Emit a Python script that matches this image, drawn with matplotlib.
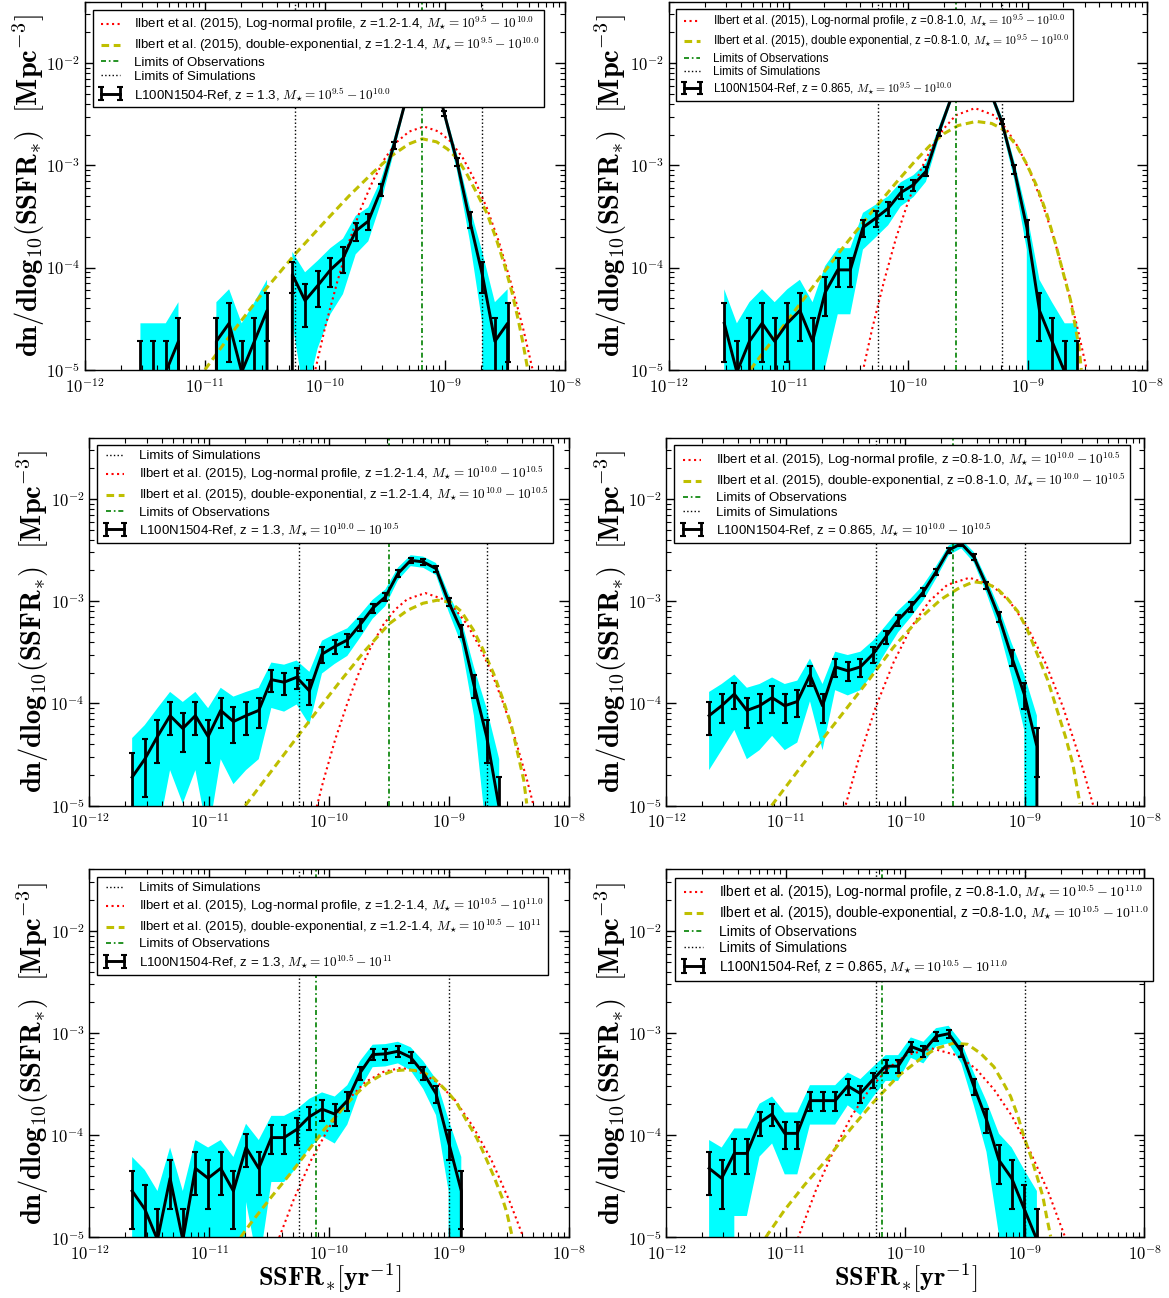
# SSFR distribution functions, L100N1504-Ref vs Ilbert et al. (2015)

import numpy as np
import matplotlib
matplotlib.use('Agg')
import matplotlib.pyplot as plt
from matplotlib import ticker

plt.rcParams['font.family'] = 'sans-serif'
plt.rcParams['font.sans-serif'] = ['Liberation Sans', 'DejaVu Sans']
plt.rcParams['mathtext.fontset'] = 'cm'
plt.rcParams['legend.numpoints'] = 2
plt.rcParams['axes.linewidth'] = 1.0

# one galaxy in one bin -> number density (Mpc^-3 dex^-1)
unit = 9.48e-6

# log10 SSFR bin centres [yr^-1]
log_bins = [-11.643, -11.538, -11.432, -11.327, -11.221, -11.116, -11.010, -10.905,
            -10.799, -10.694, -10.588, -10.483, -10.377, -10.272, -10.166, -10.061,
            -9.955, -9.850, -9.744, -9.639, -9.533, -9.428, -9.322, -9.217,
            -9.111, -9.006, -8.900, -8.795, -8.689, -8.584, -8.478, -8.373]

# galaxy counts per bin (simulation)
tl_counts = [1, 1, 1, 2, 0, 0, 2, 3, 1, 2, 4, 0, 9, 5, 7, 10, 13, 24, 30, 61, 164,
             480, 1000, 1100, 340, 115, 31, 9, 2, 3, 0]
tr_counts = [3, 1, 2, 3, 2, 3, 4, 2, 6, 10, 10, 26, 32, 40, 57, 68, 92, 219, 480,
             800, 850, 600, 285, 96, 26, 4, 2, 1, 1, 0]
ml_counts = [2, 3, 5, 8, 6, 8, 5, 9, 7, 8, 9, 18, 17, 19, 14, 32, 38, 44, 62, 90,
             116, 197, 265, 256, 220, 104, 55, 16, 5, 1, 0]
mr_counts = [8, 10, 13, 9, 10, 12, 10, 11, 20, 10, 24, 22, 24, 32, 47, 69, 93, 130,
             204, 333, 387, 286, 151, 74, 30, 13, 4, 0]
bl_counts = [3, 2, 1, 4, 1, 5, 4, 5, 3, 8, 5, 10, 10, 12, 16, 19, 17, 23, 43, 65,
             66, 70, 61, 43, 27, 9, 3, 0]
br_counts = [5, 4, 7, 7, 14, 17, 11, 11, 23, 23, 23, 32, 27, 37, 50, 50, 78, 70,
             98, 104, 70, 32, 15, 6, 4, 2, 1, 0]

# Ilbert et al. (2015) log-normal profiles (log10 SSFR, log10 density)
tl_red_lx = [-10.10, -10.00, -9.90, -9.80, -9.70, -9.60, -9.50, -9.40, -9.30, -9.175,
             -9.05, -8.95, -8.85, -8.75, -8.65, -8.55, -8.45, -8.35, -8.25]
tl_red_ly = [-5.10, -4.59, -4.15, -3.75, -3.42, -3.15, -2.93, -2.77, -2.67, -2.62,
             -2.67, -2.77, -2.93, -3.15, -3.42, -3.75, -4.15, -4.59, -5.10]
tr_red_lx = [-10.40, -10.30, -10.20, -10.10, -10.00, -9.90, -9.80, -9.70, -9.60, -9.44,
             -9.28, -9.18, -9.08, -8.98, -8.88, -8.78, -8.68, -8.58, -8.48]
tr_red_ly = [-5.13, -4.60, -4.13, -3.71, -3.36, -3.06, -2.82, -2.64, -2.51, -2.44,
             -2.51, -2.64, -2.82, -3.06, -3.36, -3.71, -4.13, -4.60, -5.13]
ml_red_lx = [-10.15, -10.05, -9.95, -9.85, -9.75, -9.65, -9.55, -9.45, -9.35, -9.20,
             -9.05, -8.95, -8.85, -8.75, -8.65, -8.55, -8.45, -8.35, -8.25]
ml_red_ly = [-5.22, -4.76, -4.35, -4.00, -3.69, -3.44, -3.23, -3.08, -2.98, -2.92,
             -2.98, -3.08, -3.23, -3.44, -3.69, -4.00, -4.35, -4.76, -5.22]
mr_red_lx = [-10.55, -10.40, -10.25, -10.10, -9.95, -9.80, -9.65, -9.465, -9.28, -9.13,
             -8.98, -8.83, -8.68, -8.53, -8.38]
mr_red_ly = [-5.20, -4.58, -4.04, -3.60, -3.25, -3.00, -2.84, -2.77, -2.84, -3.00,
             -3.25, -3.60, -4.04, -4.58, -5.20]
bl_red_lx = [-10.45, -10.30, -10.15, -10.00, -9.85, -9.70, -9.55, -9.40, -9.25, -9.10,
             -8.95, -8.80, -8.65, -8.50, -8.35]
bl_red_ly = [-5.10, -4.64, -4.24, -3.92, -3.66, -3.48, -3.38, -3.34, -3.38, -3.48,
             -3.66, -3.92, -4.24, -4.64, -5.10]
br_red_lx = [-10.90, -10.75, -10.60, -10.45, -10.30, -10.15, -10.00, -9.78, -9.56, -9.41,
             -9.26, -9.11, -8.96, -8.81, -8.66]
br_red_ly = [-5.01, -4.54, -4.15, -3.81, -3.55, -3.35, -3.22, -3.15, -3.22, -3.35,
             -3.55, -3.81, -4.15, -4.54, -5.01]

# Ilbert et al. (2015) double-exponential fits
tl_yel_lx = [-11.00, -10.75, -10.50, -10.25, -10.00, -9.80, -9.60, -9.45, -9.30, -9.19,
             -9.07, -8.98, -8.90, -8.82, -8.74, -8.65, -8.57, -8.50, -8.44, -8.39, -8.35, -8.31]
tl_yel_ly = [-5.00, -4.60, -4.22, -3.87, -3.55, -3.30, -3.07, -2.91, -2.79, -2.74,
             -2.77, -2.84, -2.93, -3.08, -3.26, -3.47, -3.73, -3.99, -4.25, -4.51, -4.74, -5.00]
tr_yel_lx = [-11.32, -11.10, -10.90, -10.70, -10.50, -10.30, -10.10, -9.95, -9.82, -9.70,
             -9.58, -9.43, -9.30, -9.20, -9.09, -9.01, -8.92, -8.84, -8.76, -8.70, -8.64,
             -8.60, -8.57, -8.55]
tr_yel_ly = [-5.00, -4.66, -4.35, -4.04, -3.74, -3.45, -3.17, -2.97, -2.81, -2.69,
             -2.61, -2.57, -2.59, -2.65, -2.81, -2.98, -3.21, -3.47, -3.79, -4.06, -4.32,
             -4.58, -4.77, -5.00]
ml_yel_lx = [-10.70, -10.50, -10.30, -10.10, -9.90, -9.70, -9.50, -9.35, -9.22, -9.10,
             -8.99, -8.90, -8.80, -8.72, -8.63, -8.55, -8.48, -8.43, -8.38, -8.355]
ml_yel_ly = [-5.00, -4.69, -4.38, -4.07, -3.77, -3.48, -3.22, -3.09, -3.02, -2.99,
             -3.01, -3.10, -3.28, -3.47, -3.71, -3.97, -4.23, -4.49, -4.75, -4.98]
mr_yel_lx = [-11.12, -10.90, -10.70, -10.50, -10.30, -10.10, -9.90, -9.70, -9.55, -9.43,
             -9.32, -9.23, -9.15, -9.06, -8.98, -8.90, -8.81, -8.73, -8.66, -8.60, -8.56, -8.54]
mr_yel_ly = [-5.00, -4.66, -4.36, -4.06, -3.76, -3.45, -3.19, -2.98, -2.87, -2.81,
             -2.825, -2.88, -2.97, -3.10, -3.28, -3.51, -3.77, -4.07, -4.33, -4.59, -4.85, -4.98]
bl_yel_lx = [-10.74, -10.66, -10.48, -10.30, -10.13, -10.04, -9.94, -9.86, -9.77, -9.68,
             -9.58, -9.47, -9.36, -9.24, -9.13, -9.02, -8.94, -8.86, -8.77, -8.70, -8.63,
             -8.56, -8.52, -8.48]
bl_yel_ly = [-5.00, -4.87, -4.60, -4.34, -4.08, -3.94, -3.81, -3.70, -3.59, -3.49,
             -3.42, -3.37, -3.36, -3.37, -3.44, -3.57, -3.68, -3.85, -4.03, -4.21, -4.40,
             -4.61, -4.76, -4.97]
br_yel_lx = [-11.17, -11.01, -10.84, -10.66, -10.46, -10.27, -10.06, -9.85, -9.74, -9.60,
             -9.48, -9.37, -9.26, -9.18, -9.12, -9.06, -9.01, -8.95, -8.90, -8.85, -8.82, -8.785]
br_yel_ly = [-5.00, -4.73, -4.48, -4.24, -3.94, -3.68, -3.42, -3.23, -3.15, -3.10,
             -3.11, -3.20, -3.33, -3.49, -3.62, -3.81, -4.01, -4.21, -4.40, -4.60, -4.79, -4.99]

# limits (log10 SSFR)
sim_limits = {'tl': (-10.25, -8.69), 'tr': (-10.25, -9.21), 'ml': (-10.25, -8.69),
              'mr': (-10.25, -9.0), 'bl': (-10.25, -9.0), 'br': (-10.25, -9.0)}
obs_limit = {'tl': -9.19, 'tr': -9.60, 'ml': -9.50, 'mr': -9.60, 'bl': -10.11, 'br': -10.20}

# labelled decades on the axes
x_decades = [1e-12, 1e-11, 1e-10, 1e-9, 1e-8]
y_decades = [1e-5, 1e-4, 1e-3, 1e-2]

ilb = 'Ilbert et al. (2015), '
m1 = r'$M_{\star} = 10^{9.5} - 10^{10.0}$'
m2 = r'$M_{\star} = 10^{10.0} - 10^{10.5}$'
m3 = r'$M_{\star} = 10^{10.5} - 10^{11.0}$'
m3b = r'$M_{\star} = 10^{10.5} - 10^{11}$'
obs_lab = 'Limits of Observations'
sim_lab = 'Limits of Simulations'

panels = [
    dict(key='tl', rect=[0.0727, 0.7152, 0.4106, 0.2835], ylab_x=-0.079, legsize=9.5,
         first=1, counts=tl_counts, red=(tl_red_lx, tl_red_ly), yel=(tl_yel_lx, tl_yel_ly),
         labels={'red': ilb + 'Log-normal profile, z =1.2-1.4, ' + m1,
                 'yel': ilb + 'double-exponential, z =1.2-1.4, ' + m1,
                 'obs': obs_lab, 'sim': sim_lab,
                 'dat': 'L100N1504-Ref, z = 1.3, ' + m1},
         order=['red', 'yel', 'obs', 'sim', 'dat'], xlabel=False),
    dict(key='tr', rect=[0.5723, 0.7152, 0.4089, 0.2835], ylab_x=-0.083, legsize=8.4,
         first=1, counts=tr_counts, red=(tr_red_lx, tr_red_ly), yel=(tr_yel_lx, tr_yel_ly),
         labels={'red': ilb + 'Log-normal profile, z =0.8-1.0, ' + m1,
                 'yel': ilb + 'double exponential, z =0.8-1.0, ' + m1,
                 'obs': obs_lab, 'sim': sim_lab,
                 'dat': 'L100N1504-Ref, z = 0.865, ' + m1},
         order=['red', 'yel', 'obs', 'sim', 'dat'], xlabel=False),
    dict(key='ml', rect=[0.0764, 0.3794, 0.4106, 0.2835], ylab_x=-0.080, legsize=9.5,
         first=0, counts=ml_counts, red=(ml_red_lx, ml_red_ly), yel=(ml_yel_lx, ml_yel_ly),
         labels={'red': ilb + 'Log-normal profile, z =1.2-1.4, ' + m2,
                 'yel': ilb + 'double-exponential, z =1.2-1.4, ' + m2,
                 'obs': obs_lab, 'sim': sim_lab,
                 'dat': 'L100N1504-Ref, z = 1.3, ' + m2},
         order=['sim', 'red', 'yel', 'obs', 'dat'], xlabel=False),
    dict(key='mr', rect=[0.5701, 0.3794, 0.4089, 0.2835], ylab_x=-0.079, legsize=9.5,
         first=0, counts=mr_counts, red=(mr_red_lx, mr_red_ly), yel=(mr_yel_lx, mr_yel_ly),
         labels={'red': ilb + 'Log-normal profile, z =0.8-1.0, ' + m2,
                 'yel': ilb + 'double-exponential, z =0.8-1.0, ' + m2,
                 'obs': obs_lab, 'sim': sim_lab,
                 'dat': 'L100N1504-Ref, z = 0.865, ' + m2},
         order=['red', 'yel', 'obs', 'sim', 'dat'], xlabel=False),
    dict(key='bl', rect=[0.0764, 0.0467, 0.4106, 0.2835], ylab_x=-0.080, legsize=9.5,
         first=0, counts=bl_counts, red=(bl_red_lx, bl_red_ly), yel=(bl_yel_lx, bl_yel_ly),
         labels={'red': ilb + 'Log-normal profile, z =1.2-1.4, ' + m3,
                 'yel': ilb + 'double-exponential, z =1.2-1.4, ' + m3b,
                 'obs': obs_lab, 'sim': sim_lab,
                 'dat': 'L100N1504-Ref, z = 1.3, ' + m3b},
         order=['sim', 'red', 'yel', 'obs', 'dat'], xlabel=True),
    dict(key='br', rect=[0.5701, 0.0467, 0.4089, 0.2835], ylab_x=-0.079, legsize=10,
         first=0, counts=br_counts, red=(br_red_lx, br_red_ly), yel=(br_yel_lx, br_yel_ly),
         labels={'red': ilb + 'Log-normal profile, z =0.8-1.0, ' + m3,
                 'yel': ilb + 'double-exponential, z =0.8-1.0, ' + m3,
                 'obs': obs_lab, 'sim': sim_lab,
                 'dat': 'L100N1504-Ref, z = 0.865, ' + m3},
         order=['red', 'yel', 'obs', 'sim', 'dat'], xlabel=True),
]

fmt = ticker.FuncFormatter(lambda v, pos: r'$\mathbf{10^{%d}}$' % int(round(np.log10(v))))

fig = plt.figure(figsize=(11.69, 12.98), dpi=100)

for p in panels:
    ax = fig.add_axes(p['rect'])
    ax.set_xscale('log')
    ax.set_yscale('log')

    first = p['first']
    x = 10 ** np.array(log_bins[first:first + len(p['counts'])])
    n = np.array(p['counts'], dtype=float)
    y = n * unit
    err = np.sqrt(n) * unit

    ax.fill_between(x, y - 2 * err, y + 2 * err, color='cyan', lw=0, zorder=1)

    h_red, = ax.plot(10 ** np.array(p['red'][0]), 10 ** np.array(p['red'][1]),
                     color='r', ls=':', lw=1.5, zorder=2)
    h_yel, = ax.plot(10 ** np.array(p['yel'][0]), 10 ** np.array(p['yel'][1]),
                     color='y', dashes=(2.5, 1.5), lw=2.2, zorder=2)
    h_obs = ax.axvline(10 ** obs_limit[p['key']], color='g', dashes=(3, 1.7, 1, 1.7),
                       lw=1.2, zorder=2)
    lo, hi = sim_limits[p['key']]
    h_sim = ax.axvline(10 ** lo, color='k', ls=':', lw=1.0, zorder=2)
    ax.axvline(10 ** hi, color='k', ls=':', lw=1.0, zorder=2)

    h_dat = ax.errorbar(x, y, yerr=err, color='k', lw=2.1, elinewidth=2,
                        capsize=2.3, capthick=1.5, zorder=3)

    ax.set_xlim(1e-12, 1e-8)
    ax.set_ylim(1e-5, 4e-2)
    ax.xaxis.set_major_locator(ticker.FixedLocator(x_decades))
    ax.yaxis.set_major_locator(ticker.FixedLocator(y_decades))
    for axis in (ax.xaxis, ax.yaxis):
        axis.set_minor_locator(ticker.LogLocator(base=10, subs=np.arange(2, 10), numticks=50))
        axis.set_major_formatter(fmt)
        axis.set_minor_formatter(ticker.NullFormatter())
    ax.tick_params(which='both', direction='in', top=True, right=True)
    ax.tick_params(which='major', length=7, width=1, labelsize=12)
    ax.tick_params(which='minor', length=3.5, width=0.8)
    ax.tick_params(axis='x', which='major', pad=5)

    ax.set_ylabel(r'$\mathbf{dn/dlog_{10}(SSFR_{*})\ \ [Mpc^{-3}]}$', fontsize=20.5)
    ax.yaxis.set_label_coords(p['ylab_x'], 0.5)
    if p['xlabel']:
        ax.set_xlabel(r'$\mathbf{SSFR_{*}[yr^{-1}]}$', fontsize=19)
        ax.xaxis.set_label_coords(0.5, -0.066)

    handles = {'red': h_red, 'yel': h_yel, 'obs': h_obs, 'sim': h_sim, 'dat': h_dat}
    leg = ax.legend([handles[k] for k in p['order']], [p['labels'][k] for k in p['order']],
                    loc='upper left', fontsize=p['legsize'], labelspacing=0.15,
                    borderpad=0.35, fancybox=False, framealpha=1, edgecolor='k',
                    borderaxespad=0.6)
    leg.get_frame().set_linewidth(1.0)

fig.savefig('out.png', dpi=100)
